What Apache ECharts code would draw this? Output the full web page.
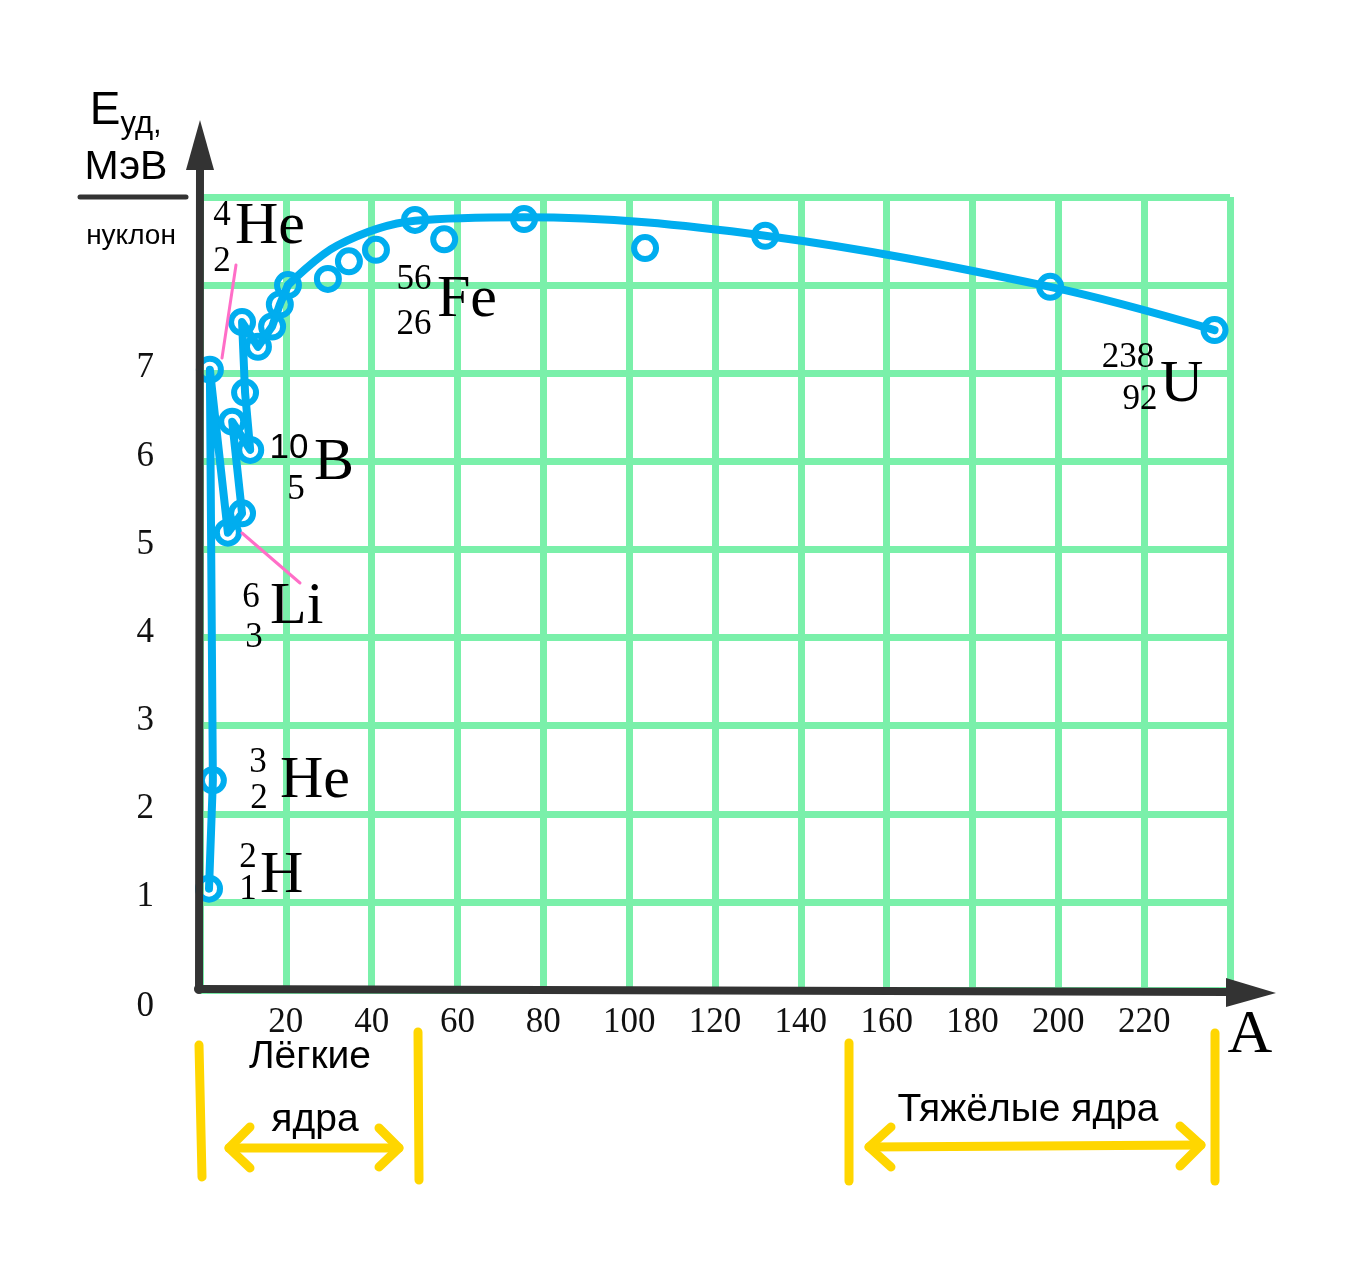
<!DOCTYPE html>
<html>
<head>
<meta charset="utf-8">
<script src="https://cdn.jsdelivr.net/npm/echarts@6/dist/echarts.min.js"></script>
<style>html,body{margin:0;padding:0;background:#fff}#c{width:1350px;height:1273px}</style>
</head>
<body>
<div id="c"></div>
<script>
// ---- data ----
const xTickValues = [20, 40, 60, 80, 100, 120, 140, 160, 180, 200, 220];
const yTickValues = [0, 1, 2, 3, 4, 5, 6, 7];
// zig-zag path through the light nuclei (A, E in MeV/nucleon)
const lightPathA = [2.1, 3.0, 2.3, 6.5, 9.8, 7.5, 11.7, 10.5, 9.8, 13.5, 16.8, 18.6, 20.5];
const lightPathE = [1.15, 2.38, 7.04, 5.19, 5.41, 6.45, 6.13, 6.78, 7.58, 7.30, 7.53, 7.78, 8.00];
// smooth curve for heavier nuclei
const curveA = [20.5, 32.0, 50.1, 75.5, 131.7, 198.1, 236.4];
const curveE = [8.00, 8.45, 8.73, 8.77, 8.56, 7.98, 7.49];
// measured points (circles)
const circleA = [2.1, 3.0, 2.3, 6.5, 7.5, 9.8, 10.5, 11.7, 9.8, 13.5, 16.8, 18.6, 20.5, 29.8, 34.7, 41.0, 50.1, 56.9, 75.5, 103.7, 131.7, 198.1, 236.4];
const circleE = [1.15, 2.38, 7.04, 5.19, 6.45, 5.41, 6.78, 6.13, 7.58, 7.30, 7.53, 7.78, 8.00, 8.07, 8.27, 8.40, 8.74, 8.52, 8.75, 8.42, 8.56, 7.98, 7.49];

const zip = (a, b) => a.map((v, i) => [v, b[i]]);

const BLUE = '#00adef', GREEN = '#7af0aa', DARK = '#333333', YELLOW = '#ffd600', PINK = '#ff6ec7';
const SERIF = '"Liberation Serif","DejaVu Serif",serif';
const SANS = '"Liberation Sans","DejaVu Sans",sans-serif';

const chart = echarts.init(document.getElementById('c'));

function txt(x, y, s, size, font, align) {
  return {
    type: 'text', x: x, y: y, z: 50,
    style: { text: s, fontSize: size, fontFamily: font || SERIF, fill: '#000',
             align: align || 'center', verticalAlign: 'middle' }
  };
}
function line(pts, color, w, z) {
  return { type: 'polyline', z: z || 40, shape: { points: pts },
           style: { stroke: color, lineWidth: w, lineCap: 'round', lineJoin: 'round', fill: null } };
}
// isotope label: mass (sup), charge (sub), symbol
function iso(xSup, ySup, xSub, ySub, xSym, ySym, mass, z, sym, supFont) {
  return [
    txt(xSup, ySup, mass, 35, supFont || SERIF, 'center'),
    txt(xSub, ySub, z, 35, SERIF, 'center'),
    txt(xSym, ySym, sym, 60, SERIF, 'left')
  ];
}

const graphics = [].concat(
  // axes with arrows
  [ line([[199, 990], [200, 165]], DARK, 8, 30),
    { type: 'polygon', z: 30, shape: { points: [[200, 120], [186, 170], [214, 170]] }, style: { fill: DARK } },
    line([[198, 989], [1228, 992]], DARK, 8, 30),
    { type: 'polygon', z: 30, shape: { points: [[1276, 993], [1226, 978], [1226, 1007]] }, style: { fill: DARK } } ],
  // y-axis title
  [ txt(105, 111, 'E', 46, SANS, 'center'),
    txt(141, 124, 'уд,', 31, SANS, 'center'),
    txt(126, 168, 'МэВ', 41, SANS, 'center'),
    line([[80, 197], [186, 197]], DARK, 5, 30),
    txt(131, 236, 'нуклон', 28, SANS, 'center'),
    txt(1250, 1036, 'A', 62, SERIF, 'center') ],
  // isotope labels
  iso(222, 216, 222, 262, 235, 227, '4', '2', 'He'),
  iso(414, 280, 414, 325, 437, 300, '56', '26', 'Fe'),
  iso(289, 448, 296, 490, 314, 463, '10', '5', 'B', SANS),
  iso(251, 598, 254, 638, 270, 607, '6', '3', 'Li'),
  iso(258, 763, 259, 799, 280, 781, '3', '2', 'He'),
  iso(248, 858, 248, 890, 260, 876, '2', '1', 'H'),
  iso(1128, 358, 1140, 400, 1160, 385, '238', '92', 'U'),
  // pink leader lines
  [ line([[236, 265], [222, 358]], PINK, 3, 35),
    line([[300, 583], [242, 533]], PINK, 3, 35) ],
  // yellow brackets and arrows
  [ line([[199, 1045], [202, 1177]], YELLOW, 9),
    line([[418, 1032], [419, 1180]], YELLOW, 9),
    line([[849, 1043], [849, 1181]], YELLOW, 9),
    line([[1215, 1033], [1215, 1181]], YELLOW, 9),
    line([[229, 1148], [399, 1148]], YELLOW, 9),
    line([[250, 1127], [229, 1148], [250, 1168]], YELLOW, 9),
    line([[379, 1128], [399, 1148], [379, 1167]], YELLOW, 9),
    line([[869, 1147], [1201, 1145]], YELLOW, 9),
    line([[891, 1127], [869, 1147], [891, 1167]], YELLOW, 9),
    line([[1180, 1126], [1201, 1145], [1180, 1166]], YELLOW, 9),
    txt(310, 1057, 'Лёгкие', 39, SANS, 'center'),
    txt(315, 1120, 'ядра', 39, SANS, 'center'),
    txt(1028, 1110, 'Тяжёлые ядра', 39, SANS, 'center') ]
);

chart.setOption({
  animation: false,
  backgroundColor: '#ffffff',
  grid: { left: 200, right: 120, top: 197, bottom: 283, containLabel: false, outerBoundsMode: 'none' },
  xAxis: {
    type: 'value', min: 0, max: 240, interval: 20,
    axisLine: { show: false }, axisTick: { show: false },
    splitLine: { show: true, lineStyle: { color: GREEN, width: 7 } },
    axisLabel: {
      margin: 15, fontSize: 35, fontFamily: SERIF, color: '#111',
      formatter: v => xTickValues.includes(v) ? String(v) : ''
    }
  },
  yAxis: {
    type: 'value', min: 0, max: 9, interval: 1,
    axisLine: { show: false }, axisTick: { show: false },
    splitLine: { show: true, lineStyle: { color: GREEN, width: 7 } },
    axisLabel: {
      margin: 46, fontSize: 35, fontFamily: SERIF, color: '#111',
      formatter: v => yTickValues.includes(v) ? (v === 0 ? '{z|0}' : '{n|' + v + '}') : '',
      rich: {
        z: { fontSize: 35, fontFamily: SERIF, color: '#111', padding: [34, 0, 0, 0] },
        n: { fontSize: 35, fontFamily: SERIF, color: '#111', padding: [0, 0, 10, 0] }
      }
    }
  },
  series: [
    { type: 'line', data: zip(lightPathA, lightPathE), smooth: false, showSymbol: false, z: 3,
      lineStyle: { color: BLUE, width: 8, cap: 'round', join: 'round' } },
    { type: 'line', data: zip(curveA, curveE), smooth: 0.35, showSymbol: false, z: 3,
      lineStyle: { color: BLUE, width: 8, cap: 'round' } },
    { type: 'scatter', data: zip(circleA, circleE), symbol: 'circle', symbolSize: 22, z: 4,
      itemStyle: { color: 'rgba(255,255,255,0)', borderColor: BLUE, borderWidth: 6, opacity: 1 } }
  ],
  graphic: graphics
});
</script>
</body>
</html>
